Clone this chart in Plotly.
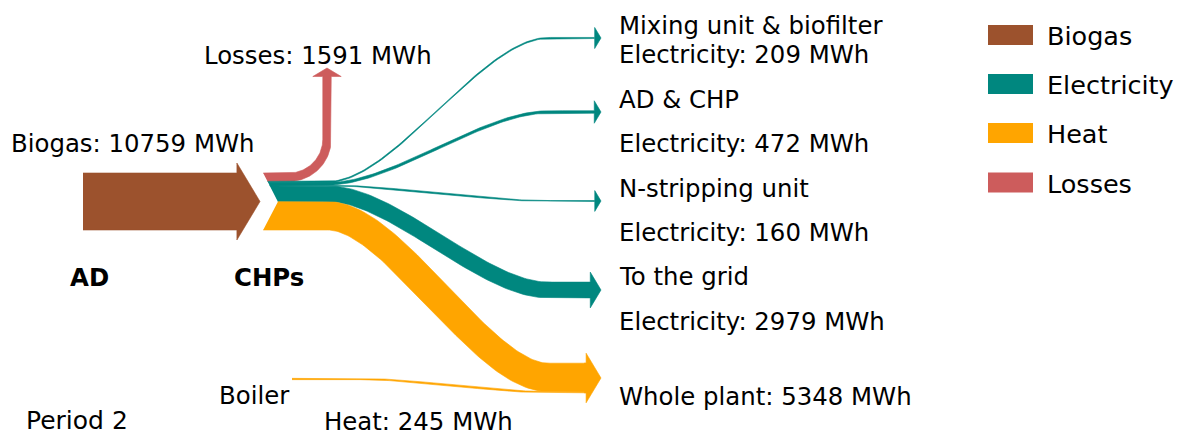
import numpy as np
import plotly.graph_objects as go

# ---------------- data ----------------
carriers = ["Biogas", "Electricity", "Heat", "Losses"]
carrier_colors = ["#9C522D", "#00877F", "#FFA500", "#CD5C5C"]

flow_sources = ["AD", "CHPs", "CHPs", "CHPs", "CHPs", "CHPs", "CHPs", "Boiler"]
flow_targets = ["CHPs", "Losses", "Mixing unit & biofilter", "AD & CHP",
                "N-stripping unit", "To the grid", "Whole plant", "Whole plant"]
flow_carriers = ["Biogas", "Losses", "Electricity", "Electricity",
                 "Electricity", "Electricity", "Heat", "Heat"]
flow_values = [10759, 1591, 209, 472, 160, 2979, 5348, 245]
period_label = "Period 2"

# ---------------- layout constants (pixels) ----------------
W, H = 1179, 436
PX_PER_MWH = 57.0 / 10759
AD_X0 = 83
AD_TIP = 260
CHP_Y = 201.5
CHEV_TIP = 278
CHEV_SLOPE = 0.52
HEAD_EXT = 10
HEAD_RATIO = 0.6
TIP_X = 601
X0, X1, F = 328, 548, 0.3
target_y = {"Mixing unit & biofilter": 38, "AD & CHP": 112,
            "N-stripping unit": 201, "To the grid": 290, "Whole plant": 378}
LOSS_X = 327
LOSS_TIP_Y = 68
LOSS_R = 38
BOILER_X, BOILER_Y, BOILER_BEND = 292, 379, 360

color_of = dict(zip(carriers, carrier_colors))
fig = go.Figure()


def add_poly(xs, ys, color):
    fig.add_trace(go.Scatter(x=list(xs), y=list(ys), mode="lines", fill="toself",
                             fillcolor=color, line=dict(color=color, width=0.6),
                             hoverinfo="skip", showlegend=False))


def seg_line(p0, p1, n=20):
    t = np.linspace(0, 1, n)
    return np.column_stack([p0[0] + (p1[0] - p0[0]) * t, p0[1] + (p1[1] - p0[1]) * t])


def seg_bezier(p0, p1, f=F, n=80):
    x0, y0 = p0
    x1, y1 = p1
    dx = x1 - x0
    c0 = (x0 + f * dx, y0)
    c1 = (x1 - f * dx, y1)
    t = np.linspace(0, 1, n)
    x = (1 - t) ** 3 * x0 + 3 * (1 - t) ** 2 * t * c0[0] + 3 * (1 - t) * t ** 2 * c1[0] + t ** 3 * x1
    y = (1 - t) ** 3 * y0 + 3 * (1 - t) ** 2 * t * c0[1] + 3 * (1 - t) * t ** 2 * c1[1] + t ** 3 * y1
    return np.column_stack([x, y])


def seg_arc(center, r, a0, a1, n=60):
    a = np.linspace(a0, a1, n)
    return np.column_stack([center[0] + r * np.sin(a), center[1] + r * np.cos(a)])


def join(*segs):
    out = [segs[0]]
    for s in segs[1:]:
        out.append(s[1:])
    return np.vstack(out)


def chev_x(y):
    return CHEV_TIP - CHEV_SLOPE * abs(y - CHP_Y)


def band(center, w, color, head=True, chevron=False):
    d = np.gradient(center, axis=0)
    d = d / np.linalg.norm(d, axis=1)[:, None]
    n = np.column_stack([-d[:, 1], d[:, 0]])
    A = center - n * w / 2
    B = center + n * w / 2
    if chevron:
        A[0, 0] = chev_x(A[0, 1])
        B[0, 0] = chev_x(B[0, 1])
    pts = list(A)
    if head:
        half = w / 2 + HEAD_EXT
        ln = HEAD_RATIO * half
        pe, de, ne = center[-1], d[-1], n[-1]
        pts += [pe - ne * half, pe + de * ln, pe + ne * half]
    pts += list(B[::-1])
    pts = np.array(pts)
    add_poly(pts[:, 0], pts[:, 1], color)


def head_base_x(w):
    return TIP_X - HEAD_RATIO * (w / 2 + HEAD_EXT)


widths = [v * PX_PER_MWH for v in flow_values]

# ---- biogas arrow (AD -> CHPs)
wb = widths[0]
base = AD_TIP - HEAD_RATIO * (wb / 2 + HEAD_EXT)
band(seg_line((AD_X0, CHP_Y), (base, CHP_Y)), wb, color_of[flow_carriers[0]])

# ---- outputs of CHPs stacked at the chevron
y_cursor = CHP_Y - wb / 2
src_center = {}
for i in range(1, 7):
    src_center[i] = y_cursor + widths[i] / 2
    y_cursor += widths[i]

# losses: turn upward
i = 1
wl = widths[i]
yc = src_center[i]
arc_c = (LOSS_X - LOSS_R, yc - LOSS_R)
cl = join(seg_line((CHEV_TIP, yc), (arc_c[0], yc)),
          seg_arc(arc_c, LOSS_R, 0, np.pi / 2),
          seg_line((LOSS_X, arc_c[1]), (LOSS_X, LOSS_TIP_Y + HEAD_RATIO * (wl / 2 + HEAD_EXT))))
band(cl, wl, color_of[flow_carriers[i]], head=True, chevron=True)

# electricity outputs
for i in range(2, 6):
    w = widths[i]
    yc = src_center[i]
    yt = target_y[flow_targets[i]]
    cl = join(seg_line((CHEV_TIP, yc), (X0, yc)),
              seg_bezier((X0, yc), (X1, yt)),
              seg_line((X1, yt), (head_base_x(w), yt)))
    band(cl, w, color_of[flow_carriers[i]], head=True, chevron=True)

# heat to whole plant (merged with boiler heat)
w_total = widths[6] + widths[7]
wp_top = target_y["Whole plant"] - w_total / 2
hb = head_base_x(w_total)
i = 6
yc = src_center[i]
yt = wp_top + widths[6] / 2
cl = join(seg_line((CHEV_TIP, yc), (X0, yc)),
          seg_bezier((X0, yc), (X1, yt)),
          seg_line((X1, yt), (hb, yt)))
band(cl, widths[6], color_of["Heat"], head=False, chevron=True)
i = 7
yt = wp_top + widths[6] + widths[7] / 2
cl = join(seg_line((BOILER_X, BOILER_Y), (BOILER_BEND, BOILER_Y)),
          seg_bezier((BOILER_BEND, BOILER_Y), (X1, yt)),
          seg_line((X1, yt), (hb, yt)))
band(cl, widths[7], color_of["Heat"], head=False)
# combined arrow head
yt = target_y["Whole plant"]
band(seg_line((hb - 2, yt), (hb, yt), n=3), w_total, color_of["Heat"], head=True)

# ---------------- text ----------------
FONT = "DejaVu Sans"
FS = 24.4
labels = [
    (f"Losses: {flow_values[1]} MWh", 202, 55, FS),
    (f"Biogas: {flow_values[0]} MWh", 9, 143, FS),
    ("<b>AD</b>", 68, 277, FS),
    ("<b>CHPs</b>", 232, 277, FS),
    ("Boiler", 217, 395, FS),
    (f"Heat: {flow_values[7]} MWh", 322, 421, FS),
    (period_label, 24, 420, 25),
    (flow_targets[2], 617, 25, FS),
    (f"Electricity: {flow_values[2]} MWh", 617, 54, FS),
    (flow_targets[3], 617, 99, FS),
    (f"Electricity: {flow_values[3]} MWh", 617, 143, FS),
    (flow_targets[4], 617, 188, FS),
    (f"Electricity: {flow_values[4]} MWh", 617, 232, FS),
    (flow_targets[5], 617, 276, FS),
    (f"Electricity: {flow_values[5]} MWh", 617, 321, FS),
    (f"{flow_targets[6]}: {flow_values[6]} MWh", 617, 396, FS),
]
annotations = []
for txt, x, y, s in labels:
    annotations.append(dict(text=txt, x=x, y=y, xref="x", yref="y", showarrow=False,
                            xanchor="left", yanchor="middle",
                            font=dict(family=FONT, size=s, color="#000000")))

# legend (drawn)
legend_y = [35, 84, 133, 182.5]
shapes = []
for name, col, ly in zip(carriers, carrier_colors, legend_y):
    shapes.append(dict(type="rect", xref="x", yref="y", x0=988, x1=1033,
                       y0=ly - 10, y1=ly + 10, fillcolor=col, line=dict(width=0)))
    annotations.append(dict(text=name, x=1045, y=ly + 1, xref="x", yref="y",
                            showarrow=False, xanchor="left", yanchor="middle",
                            font=dict(family=FONT, size=25.5, color="#000000")))

fig.update_layout(
    width=W, height=H, margin=dict(l=0, r=0, t=0, b=0),
    paper_bgcolor="white", plot_bgcolor="white",
    xaxis=dict(range=[0, W], visible=False, fixedrange=True),
    yaxis=dict(range=[H, 0], visible=False, fixedrange=True),
    annotations=annotations, shapes=shapes, showlegend=False,
)
fig.write_html("out.html", config={"displayModeBar": False},
               post_script="document.body.style.margin='0px';document.body.style.overflow='hidden';")
